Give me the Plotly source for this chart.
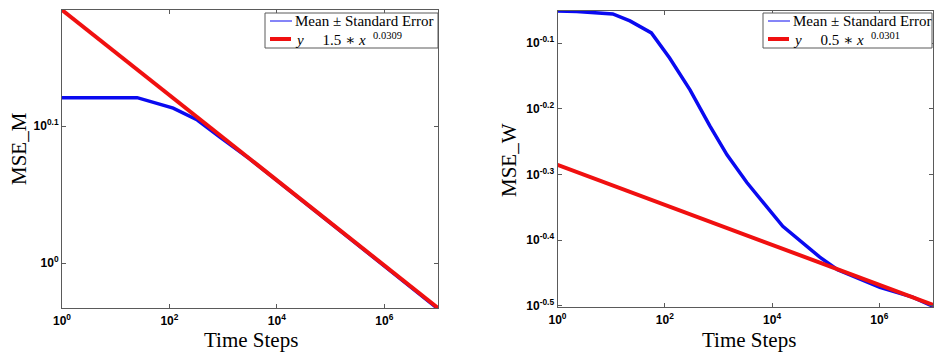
import plotly.graph_objects as go

# ---- data -------------------------------------------------------------
# MSE_M: mean curve and its power-law fit
m_steps = [1, 25.1, 117.5, 331, 871, 3162, 1e5, 1e7]
m_mean = [1.3204, 1.3204, 1.2974, 1.2718, 1.2359, 1.1907, 1.0695, 0.926]
m_fit_steps = [1, 1e7]
m_fit = [1.530, 0.9273]

# MSE_W: mean curve and its power-law fit
w_steps = [1, 2.29, 10.72, 22.39, 56.23, 123.0, 295.1, 691.8, 1445, 3388,
           15849, 77625, 165959, 1023293, 4168694, 1e7]
w_mean = [0.8892, 0.8880, 0.8803, 0.8590, 0.8236, 0.7544, 0.6745, 0.5943,
          0.5370, 0.4872, 0.4178, 0.3750, 0.3589, 0.3373, 0.3258, 0.3155]
w_fit_steps = [1, 1e7]
w_fit = [0.5184, 0.3172]

x_tickvals = [1, 1e2, 1e4, 1e6]
x_ticktext = ["10<sup>0</sup>", "10<sup>2</sup>", "10<sup>4</sup>", "10<sup>6</sup>"]
m_tickvals = [10 ** 0, 10 ** 0.1]
m_ticktext = ["10<sup>0</sup>", "10<sup>0.1</sup>"]
w_tickvals = [10 ** -0.1, 10 ** -0.2, 10 ** -0.3, 10 ** -0.4, 10 ** -0.5]
w_ticktext = ["10<sup>-0.1</sup>", "10<sup>-0.2</sup>", "10<sup>-0.3</sup>",
              "10<sup>-0.4</sup>", "10<sup>-0.5</sup>"]

mean_label = "Mean ± Standard Error"
m_fit_label = "<i>y</i>\u00a0\u00a0\u00a0\u00a0 1.5 ∗ <i>x</i>\u00a0 <sup>0.0309</sup>"
w_fit_label = "<i>y</i>\u00a0\u00a0\u00a0\u00a0 0.5 ∗ <i>x</i>\u00a0 <sup>0.0301</sup>"

# ---- styling ----------------------------------------------------------
W, H = 940, 354
BLUE = "#0a0af0"
RED = "#f01010"
AXIS = "#5a5a5a"
SERIF = "Liberation Serif, DejaVu Serif, serif"
SANS = "Liberation Sans, Arial, sans-serif"


def px_x(p):
    return p / W


def px_y(p):
    return 1 - p / H


fig = go.Figure()

# left panel
fig.add_trace(go.Scatter(x=m_steps, y=m_mean, mode="lines", xaxis="x", yaxis="y",
                         line=dict(color=BLUE, width=3.5), showlegend=False))
fig.add_trace(go.Scatter(x=m_fit_steps, y=m_fit, mode="lines", xaxis="x", yaxis="y",
                         line=dict(color=RED, width=4), showlegend=False))

# right panel
fig.add_trace(go.Scatter(x=w_steps, y=w_mean, mode="lines", xaxis="x2", yaxis="y2",
                         line=dict(color=BLUE, width=3.5), showlegend=False))
fig.add_trace(go.Scatter(x=w_fit_steps, y=w_fit, mode="lines", xaxis="x2", yaxis="y2",
                         line=dict(color=RED, width=4), showlegend=False))

axis_common = dict(
    type="log", showgrid=False, zeroline=False, showline=True, linecolor=AXIS,
    linewidth=1, mirror="allticks", ticks="inside", ticklen=4, tickcolor=AXIS,
    tickfont=dict(family=SANS, size=12, color="black"), tickmode="array",
    automargin=False,
)

fig.update_layout(
    width=W, height=H,
    margin=dict(l=0, r=0, t=0, b=0, autoexpand=False),
    paper_bgcolor="white", plot_bgcolor="white", showlegend=False,
    xaxis=dict(domain=[px_x(62), px_x(438)], range=[0, 7], anchor="y",
               tickvals=x_tickvals, ticktext=[f"<b>{t}</b>" for t in x_ticktext],
               ticklabelstandoff=2, **axis_common),
    yaxis=dict(domain=[px_y(308), px_y(10)], range=[-0.0328, 0.1847], anchor="x",
               tickvals=m_tickvals, ticktext=[f"<b>{t}</b>" for t in m_ticktext],
               **axis_common),
    xaxis2=dict(domain=[px_x(557.5), px_x(933)], range=[0, 7], anchor="y2",
                tickvals=x_tickvals, ticktext=[f"<b>{t}</b>" for t in x_ticktext],
                ticklabelstandoff=2, **axis_common),
    yaxis2=dict(domain=[px_y(307), px_y(10.7)], range=[-0.502, -0.0504], anchor="x2",
                tickvals=w_tickvals, ticktext=[f"<b>{t}</b>" for t in w_ticktext],
                **axis_common),
)

# axis titles
title_font = dict(family=SERIF, size=21, color="black")
for x, y, text, angle in [
    (251, 340, "Time Steps", 0),
    (749, 340, "Time Steps", 0),
    (19, 149, "MSE_M", -90),
    (509, 160, "MSE_W", -90),
]:
    fig.add_annotation(x=px_x(x), y=px_y(y), xref="paper", yref="paper",
                       text=text, showarrow=False, textangle=angle,
                       xanchor="center", yanchor="middle", font=title_font)

# legend boxes drawn in paper space
legend_font = dict(family=SERIF, size=15, color="black")
for left, right, fit_label in [(265, 438, m_fit_label), (763, 932, w_fit_label)]:
    fig.add_shape(type="rect", xref="paper", yref="paper",
                  x0=px_x(left), x1=px_x(right), y0=px_y(48), y1=px_y(13),
                  line=dict(color=AXIS, width=1), fillcolor="white", layer="above")
    fig.add_shape(type="line", xref="paper", yref="paper",
                  x0=px_x(left + 5), x1=px_x(left + 27), y0=px_y(21), y1=px_y(21),
                  line=dict(color=BLUE, width=1), layer="above")
    fig.add_shape(type="line", xref="paper", yref="paper",
                  x0=px_x(left + 5), x1=px_x(left + 26), y0=px_y(39), y1=px_y(39),
                  line=dict(color=RED, width=4), layer="above")
    fig.add_annotation(x=px_x(left + 28), y=px_y(21), xref="paper", yref="paper",
                       text=mean_label, showarrow=False, xanchor="left",
                       yanchor="middle", font=legend_font)
    fig.add_annotation(x=px_x(left + 28), y=px_y(39), xref="paper", yref="paper",
                       text=fit_label, showarrow=False, xanchor="left",
                       yanchor="middle", font=legend_font)

fig.write_html("out.html")
